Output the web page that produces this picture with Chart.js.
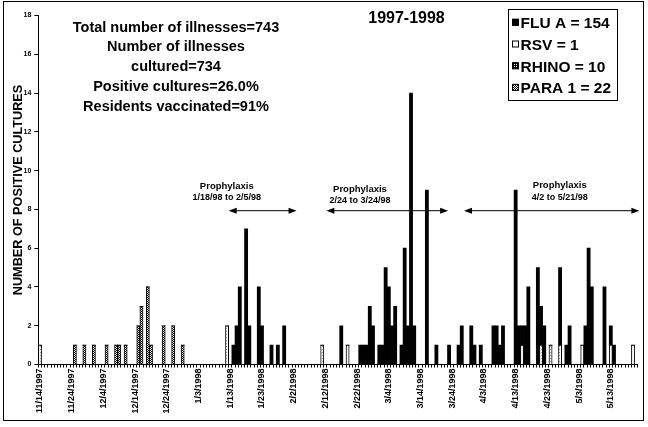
<!DOCTYPE html>
<html><head><meta charset="utf-8">
<script src="https://cdn.jsdelivr.net/npm/chart.js@4.4.1/dist/chart.umd.min.js"></script>
<style>html,body{margin:0;padding:0;background:#fff;} canvas{display:block;}</style>
</head><body>
<canvas id="c" width="648" height="427"></canvas>
<script>
// ---------- DATA ----------
const firstDay = [1997, 11, 14];
const lastDay = [1998, 5, 21];
const tickLabels = ['11/14/1997','11/24/1997','12/4/1997','12/14/1997','12/24/1997','1/3/1998','1/13/1998','1/23/1998','2/2/1998','2/12/1998','2/22/1998','3/4/1998','3/14/1998','3/24/1998','4/3/1998','4/13/1998','4/23/1998','5/3/1998','5/13/1998'];
const seriesNames = ['FLU A = 154', 'RSV = 1', 'RHINO = 10', 'PARA 1 = 22'];
const chartTitle = '1997-1998';
const yTitle = 'NUMBER OF POSITIVE CULTURES';
const infoLines = ['Total number of illnesses=743','Number of illnesses','cultured=734','Positive cultures=26.0%','Residents vaccinated=91%'];
// positive cultures per day (days not listed = 0)
const fluA = {
  '1/14/1998':1,'1/15/1998':2,'1/16/1998':4,'1/18/1998':7,'1/19/1998':2,'1/22/1998':4,'1/23/1998':2,
  '1/26/1998':1,'1/28/1998':1,'1/30/1998':2,
  '2/17/1998':2,'2/23/1998':1,'2/24/1998':1,'2/25/1998':1,'2/26/1998':3,'2/27/1998':2,
  '3/1/1998':1,'3/2/1998':1,'3/3/1998':5,'3/4/1998':4,'3/5/1998':2,'3/6/1998':3,'3/8/1998':1,
  '3/9/1998':6,'3/10/1998':2,'3/11/1998':14,'3/12/1998':2,'3/16/1998':9,'3/19/1998':1,'3/23/1998':1,
  '3/26/1998':1,'3/27/1998':2,'3/30/1998':2,'3/31/1998':1,
  '4/2/1998':1,'4/6/1998':2,'4/7/1998':2,'4/8/1998':1,'4/9/1998':2,'4/13/1998':9,'4/14/1998':2,
  '4/15/1998':1,'4/16/1998':2,'4/17/1998':4,'4/20/1998':5,'4/21/1998':2,'4/22/1998':2,'4/27/1998':4,
  '4/29/1998':1,'4/30/1998':2,'5/5/1998':2,'5/6/1998':6,'5/7/1998':4,'5/11/1998':4,'5/13/1998':1,'5/14/1998':1
};
const rsv = {'5/13/1998':1};
const rhino = {'11/14/1997':1,'1/12/1998':2,'2/11/1998':1,'2/19/1998':1,'4/15/1998':1,'4/21/1998':1,'4/24/1998':1,'4/27/1998':1,'5/4/1998':1,'5/20/1998':1};
const para1 = {'11/25/1997':1,'11/28/1997':1,'12/1/1997':1,'12/5/1997':1,'12/8/1997':1,'12/9/1997':1,'12/11/1997':1,
  '12/15/1997':2,'12/16/1997':3,'12/18/1997':4,'12/19/1997':1,'12/23/1997':2,'12/26/1997':2,'12/29/1997':1};
// prophylaxis periods: label lines, arrow span (in category-index units), text centre
const prophylaxis = [
  {lines:['Prophylaxis','1/18/98 to 2/5/98'], from:59.5, to:80.9, textAt:58.9, base:188.5},
  {lines:['Prophylaxis','2/24 to 3/24/98'], from:90.3, to:128.7, textAt:100.9, base:191.5},
  {lines:['Prophylaxis','4/2 to 5/21/98'], from:133.7, to:189.0, textAt:163.9, base:188}
];

// ---------- BUILD ----------
const categories = [];
for (let d = new Date(firstDay[0], firstDay[1]-1, firstDay[2], 12); d <= new Date(lastDay[0], lastDay[1]-1, lastDay[2], 12); d.setDate(d.getDate()+1)) {
  categories.push((d.getMonth()+1) + '/' + d.getDate() + '/' + d.getFullYear());
}
const toSeries = m => categories.map(c => m[c] || 0);

function makePattern(w, h, draw) {
  const c = document.createElement('canvas'); c.width = w; c.height = h;
  const g = c.getContext('2d'); draw(g);
  return g.createPattern(c, 'repeat');
}
const ctx = document.getElementById('c').getContext('2d');
const paraPat = makePattern(2, 2, g => { g.fillStyle = '#fff'; g.fillRect(0,0,2,2); g.fillStyle = '#000'; g.fillRect(0,0,1,1); g.fillRect(1,1,1,1); });
const rhinoPat = makePattern(3, 3, g => { g.fillStyle = '#fff'; g.fillRect(0,0,3,3); g.fillStyle = '#999'; g.fillRect(1,1,1,1); });
const rhinoIconPat = makePattern(2, 2, g => { g.fillStyle = '#000'; g.fillRect(0,0,2,2); g.fillStyle = '#fff'; g.fillRect(0,0,1,1); });

const FONT = '"Liberation Sans", Arial, Helvetica, sans-serif';

const overlay = {
  id: 'overlay',
  afterDraw(chart) {
    const c = chart.ctx;
    const xs = chart.scales.x;
    c.save();
    // frame
    c.strokeStyle = '#000'; c.lineWidth = 1;
    c.strokeRect(3.5, 1.5, 640, 419);
    c.fillStyle = '#000';
    c.textAlign = 'center'; c.textBaseline = 'alphabetic';
    // info text
    c.font = 'bold 14.5px ' + FONT;
    infoLines.forEach((t, i) => c.fillText(t, 176, 31.5 + i * 19.8));
    // title
    c.font = 'bold 16px ' + FONT;
    c.fillText(chartTitle, 406.5, 23.3);
    // legend
    c.strokeRect(508.5, 9.5, 109, 91);
    c.textAlign = 'left';
    c.font = 'bold 15.5px ' + FONT;
    const fills = ['#000', '#fff', rhinoIconPat, paraPat];
    seriesNames.forEach((t, i) => {
      const b = 28.3 + i * 21.7;
      c.fillStyle = fills[i];
      c.fillRect(512, b - 9.5, 7, 7);
      c.strokeStyle = '#000';
      c.strokeRect(512.5, b - 9, 6, 6);
      c.fillStyle = '#000';
      c.fillText(t, 520.5, b);
    });
    // prophylaxis annotations
    c.textAlign = 'center';
    prophylaxis.forEach(p => {
      const tx = xs.getPixelForValue(p.textAt);
      c.font = 'bold 9.5px ' + FONT;
      c.fillText(p.lines[0], tx, p.base);
      c.font = 'bold 9px ' + FONT;
      c.fillText(p.lines[1], tx, p.base + 11.5);
      const x1 = xs.getPixelForValue(p.from), x2 = Math.min(xs.getPixelForValue(p.to), 643);
      const y = 210.7;
      c.beginPath(); c.moveTo(x1 + 4, y); c.lineTo(x2 - 4, y); c.stroke();
      c.beginPath(); c.moveTo(x1, y); c.lineTo(x1 + 8, y - 3); c.lineTo(x1 + 8, y + 3); c.closePath(); c.fill();
      c.beginPath(); c.moveTo(x2, y); c.lineTo(x2 - 8, y - 3); c.lineTo(x2 - 8, y + 3); c.closePath(); c.fill();
    });
    c.restore();
  }
};

new Chart(ctx, {
  type: 'bar',
  data: {
    labels: categories,
    datasets: [
      {label: seriesNames[3], data: toSeries(para1), backgroundColor: paraPat, borderColor: '#000', borderWidth: 1},
      {label: seriesNames[2], data: toSeries(rhino), backgroundColor: rhinoPat, borderColor: '#000', borderWidth: 1},
      {label: seriesNames[1], data: toSeries(rsv), backgroundColor: '#fff', borderColor: '#000', borderWidth: 1},
      {label: seriesNames[0], data: toSeries(fluA), backgroundColor: '#000', borderWidth: 0}
    ]
  },
  options: {
    responsive: false, animation: false,
    layout: {padding: {left: 3, right: 6.4, top: 15.5, bottom: 0}},
    plugins: {legend: {display: false}, tooltip: {enabled: false}, title: {display: false}},
    datasets: {bar: {categoryPercentage: 1, barPercentage: 1, borderSkipped: 'start'}},
    scales: {
      x: {
        stacked: true,
        afterFit(s) { s.height = 62.5; },
        grid: {display: true, drawOnChartArea: false, drawTicks: true, tickLength: 3, color: '#000', offset: true},
        border: {display: true, color: '#000', width: 1},
        ticks: {
          autoSkip: false, minRotation: 90, maxRotation: 90, padding: 1, color: '#000',
          font: {family: FONT, size: 9, weight: 'bold'},
          callback(v, i) { const l = categories[i]; return tickLabels.includes(l) ? l : ''; }
        }
      },
      y: {
        stacked: true, min: 0, max: 18,
        afterFit(s) { s.width = 35.4; },
        grid: {display: true, drawOnChartArea: false, drawTicks: true, tickLength: 4, color: '#000'},
        border: {display: true, color: '#000', width: 1},
        ticks: {stepSize: 2, padding: 3, color: '#000', font: {family: FONT, size: 7, weight: 'bold'}},
        title: {display: true, text: yTitle, color: '#000', padding: {top: 7.4, bottom: 0}, font: {family: FONT, size: 12.7, weight: 'bold'}}
      }
    }
  },
  plugins: [overlay]
});
</script>
</body></html>
